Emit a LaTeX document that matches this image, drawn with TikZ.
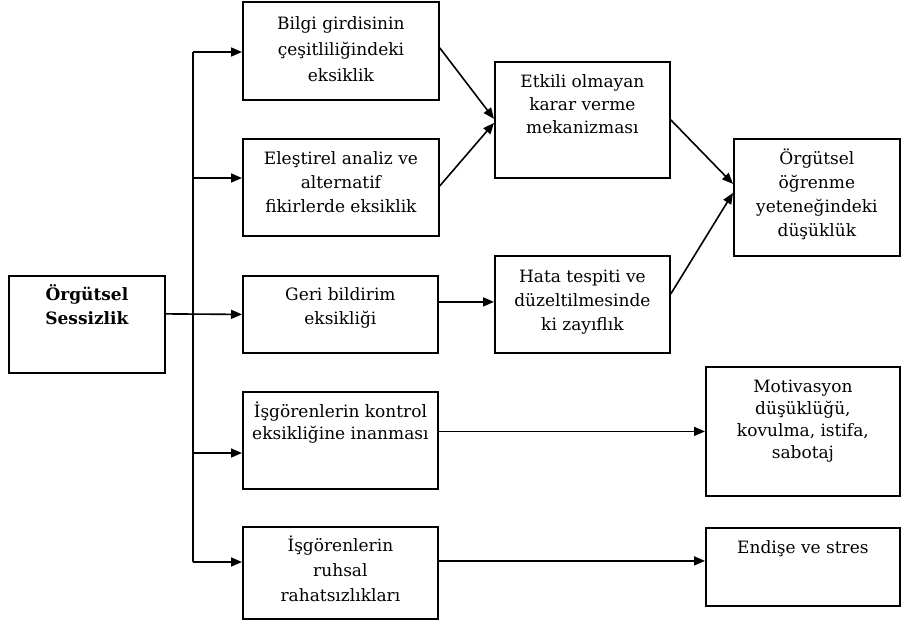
\documentclass[tikz,border=0pt]{standalone}
\usepackage{fontspec}
\setmainfont{DejaVu Serif}
\usetikzlibrary{arrows.meta,calc}
\begin{document}
\begin{tikzpicture}[x=1pt,y=-1pt,
  box/.style={draw, line width=1.8pt, rectangle, inner sep=0pt, anchor=north west},
  txt/.style={anchor=north, align=center, inner sep=0pt, font=\fontsize{17}{24}\selectfont, execute at begin node={\rule{0pt}{17pt}}},
  arr/.style={line width=1.6pt, -{Triangle[length=11pt,width=9pt]}},
  ln/.style={line width=1.6pt}]
\useasboundingbox (0,0) rectangle (904,621);
% boxes
\node[box, minimum width=156, minimum height=97] (S) at (8,275) {};
\node[box, minimum width=196, minimum height=98] (B1) at (242,1) {};
\node[box, minimum width=196, minimum height=97] (B2) at (242,138) {};
\node[box, minimum width=195, minimum height=77] (B3) at (242,275) {};
\node[box, minimum width=195, minimum height=97] (K) at (242,391) {};
\node[box, minimum width=195, minimum height=92] (R) at (242,526) {};
\node[box, minimum width=175, minimum height=116] (E) at (494,61) {};
\node[box, minimum width=175, minimum height=97] (H) at (494,255) {};
\node[box, minimum width=166, minimum height=117] (O) at (733,138) {};
\node[box, minimum width=194, minimum height=129] (M) at (705,366) {};
\node[box, minimum width=194, minimum height=78] (D) at (705,527) {};
% texts
\node[txt, font=\bfseries\fontsize{17}{24}\selectfont] (St) at ($(S.north)+(0,9)$) {Örgütsel\\Sessizlik};
\node[txt, font=\fontsize{17}{26}\selectfont] (B1t) at ($(B1.north)+(0,15)$) {Bilgi girdisinin\\çeşitliliğindeki\\eksiklik};
\node[txt] (B2t) at ($(B2.north)+(0,13)$) {Eleştirel analiz ve\\alternatif\\fikirlerde eksiklik};
\node[txt] (B3t) at ($(B3.north)+(0,12)$) {Geri bildirim\\eksikliği};
\node[txt, font=\fontsize{17}{22}\selectfont] (Kt) at ($(K.north)+(0,11)$) {İşgörenlerin kontrol\\eksikliğine inanması};
\node[txt, font=\fontsize{17}{25}\selectfont] (Rt) at ($(R.north)+(0,10)$) {İşgörenlerin\\ruhsal\\rahatsızlıkları};
\node[txt, font=\fontsize{17}{23}\selectfont] (Et) at ($(E.north)+(0,13)$) {Etkili olmayan\\karar verme\\mekanizması};
\node[txt] (Ht) at ($(H.north)+(0,15)$) {Hata tespiti ve\\düzeltilmesinde\\ki zayıflık};
\node[txt] (Ot) at ($(O.north)+(0,11)$) {Örgütsel\\öğrenme\\yeteneğindeki\\düşüklük};
\node[txt, font=\fontsize{17}{22}\selectfont] (Mt) at ($(M.north)+(0,14)$) {Motivasyon\\düşüklüğü,\\kovulma, istifa,\\sabotaj};
\node[txt] (Dt) at ($(D.north)+(0,9)$) {Endişe ve stres};
% trunk
\coordinate (tt) at (193,52);
\coordinate (j2) at (193,178);
\coordinate (j4) at (193,453);
\coordinate (tb) at (193,562);
\draw[ln] (tt) -- (tb);
\draw[arr] (tt) -- (tt -| B1.west);
\draw[arr] (j2) -- (j2 -| B2.west);
\draw[arr] (j4) -- (j4 -| K.west);
\draw[arr] (tb) -- (tb -| R.west);
\draw[arr] ([yshift=10.5pt]S.east) -- (B3.west);
% middle connectors
\draw[arr] ([yshift=3pt]B1.east) -- ([yshift=1pt]E.west);
\draw[arr] ([yshift=1.5pt]B2.east) -- ([yshift=-3pt]E.west);
\draw[arr] ([yshift=12.5pt]B3.east) -- ([yshift=12.5pt]B3.east -| H.west);
\draw[arr] (E.east) -- ([yshift=13.5pt]O.west);
\draw[arr] ([yshift=10.5pt]H.east) -- ([yshift=4.5pt]O.west);
\draw[arr] (K.east |- M.west) -- (M.west);
\coordinate (dt) at ([yshift=6pt]D.west);
\draw[arr] (R.east |- dt) -- (dt);
\end{tikzpicture}
\end{document}
